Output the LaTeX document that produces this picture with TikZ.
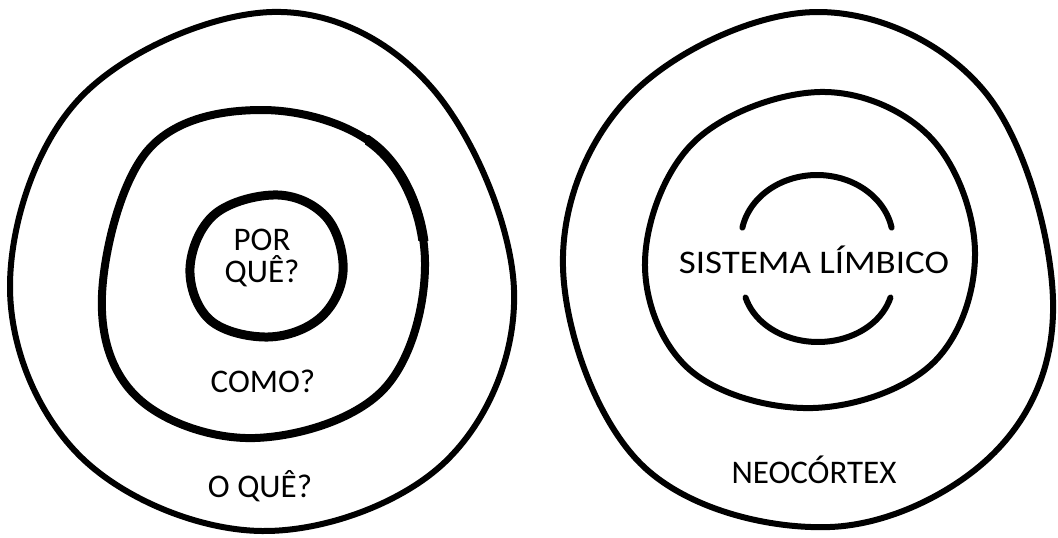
\documentclass[tikz,border=0pt]{standalone}
\usepackage{graphicx}
\usepackage{fontspec}
\setmainfont{Carlito}
\begin{document}
\begin{tikzpicture}[x=1pt,y=-1pt,
  ring/.style={line width=6pt, line join=round},
  thickring/.style={line width=8pt, line join=round},
  arcline/.style={line width=6pt, line cap=round},
  lbl/.style={font=\fontsize{33}{35}\selectfont, inner sep=0pt, anchor=base}]
\useasboundingbox (0,0) rectangle (1058,538);
% left outer
\draw[ring] plot[smooth cycle, tension=0.62] coordinates {
 (272,12) (432,88) (514,290) (445,462) (262,531) (82,458) (10,288) (80,98)};
% left middle
\draw[thickring] plot[smooth cycle, tension=0.62] coordinates {
 (262,110) (380,150) (425,262) (383,390) (255,438) (138,398) (102,295) (148,150)};
\begin{scope}
 \clip (365,135) rectangle (440,240);
 \draw[line width=10pt] plot[smooth cycle, tension=0.62] coordinates {
 (262,110) (380,150) (425,262) (383,390) (255,438) (138,398) (102,295) (148,150)};
\end{scope}
% left inner
\draw[line width=9pt] plot[smooth cycle, tension=0.62] coordinates {
 (278,195) (327,218) (343,272) (320,318) (268,337) (210,320) (190,268) (215,214)};
% right outer
\draw[ring] plot[smooth cycle, tension=0.62] coordinates {
 (817,12) (985,92) (1053,300) (995,452) (830,527) (642,465) (563,267) (632,94)};
% right middle
\draw[ring] plot[smooth cycle, tension=0.62] coordinates {
 (820,92) (930,137) (975,252) (933,363) (813,408) (690,370) (645,262) (694,142)};
% limbic arcs
\draw[arcline] plot[smooth, domain=-169:-11, samples=40] ({817+76*cos(\x)}, {240+65*sin(\x)});
\draw[arcline] plot[smooth, domain=165:15, samples=40] ({818+75*cos(\x)}, {282+60*sin(\x)});
% labels
\node[lbl] (por) at (262,250) {POR};
\node[lbl] (que) at (262,282) {QUÊ?};
\node[lbl] (como) at (263,392) {COMO?};
\node[lbl] (oque) at (260,497) {O QUÊ?};
\node[lbl] (limbico) at (814,273) {\scalebox{1.12}[1]{SISTEMA LÍMBICO}};
\node[lbl] (neo) at (814,483) {NEOCÓRTEX};
\end{tikzpicture}
\end{document}
